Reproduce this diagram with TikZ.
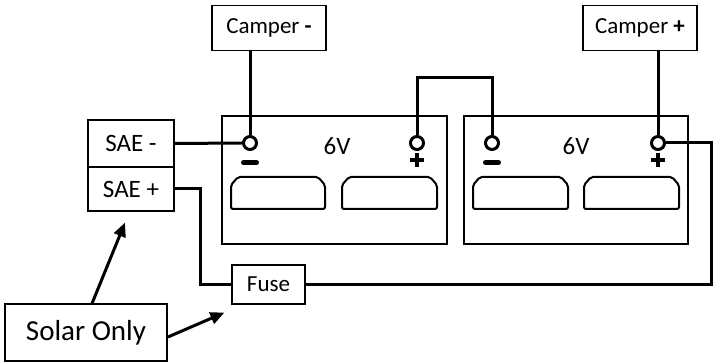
\documentclass[tikz,border=0pt]{standalone}
\usepackage{fontspec}
\setmainfont{Carlito}
\usetikzlibrary{arrows.meta, positioning}

\tikzset{
  lbl/.style = {draw, line width = 1.2pt, inner sep = 0pt, font = \fontsize{23}{27}\selectfont},
  big/.style = {font = \fontsize{25}{29}\selectfont},
  wire/.style = {line width = 3pt},
  term/.style = {circle, draw, line width = 3pt, minimum size = 13pt, inner sep = 0pt},
  batt/.style = {line width = 2pt},
}

\begin{document}
\begin{tikzpicture}[x = 1pt, y = -1pt]
\useasboundingbox (0,0) rectangle (713,363);

% batteries and cells
\draw[batt] (222,116) rectangle (447,244);
\draw[batt] (464,116) rectangle (688,244);
\foreach \a/\b in {231/325, 342/437, 473/568, 584/679}
  \draw[batt, rounded corners = 2pt] (\a,209) -- (\a,185) -- (\a+7,177) -- (\b-7,177) -- (\b,185) -- (\b,209) -- cycle;
\node[big] (v1) at (337,146) {6V};
\node[big] (v2) at (576,146) {6V};

% terminals
\node[term] (n1) at (250,143) {};
\node[term] (p1) at (417,143) {};
\node[term] (n2) at (492,143) {};
\node[term] (p2) at (658,143) {};
\foreach \t in {n1, n2}
  \draw[line width = 5pt, line cap = round] (\t)+(-6.5,19.5) -- +(6.5,19.5);
\foreach \t in {p1, p2}
  \draw[line width = 4pt] (\t)+(-7,17) -- +(7,17) (\t)+(0,10) -- +(0,24);

% boxes
\node[lbl, minimum width = 114pt, minimum height = 45pt] (cm) at (269,28) {Camper \textbf{-}};
\node[lbl, minimum width = 114pt, minimum height = 45pt] (cp) at (640,28) {Camper \textbf{+}};
\node[lbl, big, minimum width = 86pt, minimum height = 47pt] (sm) at (131,143.5) {SAE -};
\node[lbl, big, minimum width = 86pt, minimum height = 44pt] (sp) at (131,189) {SAE +};
\node[lbl, minimum width = 73pt, minimum height = 39pt] (fu) at (268.5,284.5) {Fuse};
\node[lbl, line width = 2pt, minimum width = 162pt, minimum height = 57pt, font = \fontsize{29}{33}\selectfont] (so) at (86,333) {Solar Only};

% wires
\coordinate (br) at (0,78);
\coordinate (rc) at (711,284.5);
\draw[wire] (n1.north) -- (n1 |- cm.south);
\draw[wire] (p2.north) -- (p2 |- cp.south);
\draw[wire] (sm.east) -- (n1.west);
\draw[wire] (p1.north) |- (br -| n2) -- (n2.north);
\draw[wire] (sp.east) -- ++(26,0) |- (fu.west);
\draw[wire] (p2.east) -| (rc) -- (fu.east);

% arrows
\draw[wire, -{Triangle[length = 14pt, width = 12pt]}] ([xshift = 6pt]so.north) -- ([xshift = -6pt, yshift = -11pt]sp.south);
\draw[wire, -{Triangle[length = 14pt, width = 12pt]}] ([yshift = -4pt]so.east) -- ([xshift = -7pt, yshift = -8pt]fu.south west);
\end{tikzpicture}
\end{document}
